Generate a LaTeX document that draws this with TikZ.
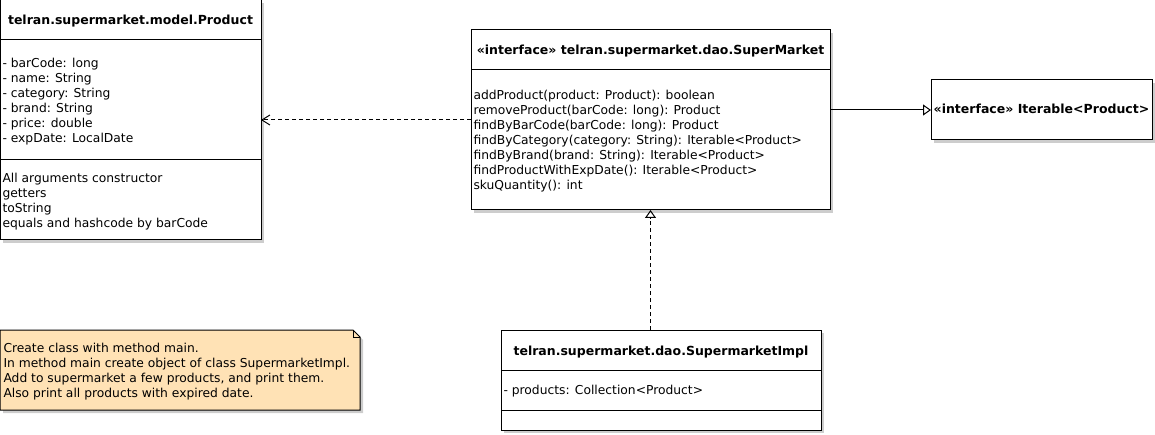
\documentclass[tikz,border=0pt]{standalone}
\usepackage{fontspec}
\setmainfont{DejaVu Sans}
\usetikzlibrary{arrows.meta,positioning,shadows}
\definecolor{notefill}{RGB}{255,226,181}
\definecolor{shadowgray}{RGB}{205,205,205}

\begin{document}
\begin{tikzpicture}[
      x=1pt, y=-1pt,
      line width=1pt,
      every node/.style={font=\fontsize{12.3}{15}\selectfont, inner sep=0pt},
      classbox/.style={rectangle, draw, fill=white, outer sep=0pt, anchor=north west,
            drop shadow={shadow xshift=3pt, shadow yshift=-3pt, fill=shadowgray, opacity=1}},
      classname/.style={font=\fontsize{12.5}{15}\selectfont\bfseries, anchor=base},
      members/.style={align=left, anchor=north west},
      depend/.style={dash pattern=on 4pt off 3pt, -{Straight Barb[length=8pt, width=10pt]}},
      realize/.style={-{Triangle[open, length=8pt, width=11pt]}},
      implement/.style={realize, dash pattern=on 4pt off 3pt}
]
\useasboundingbox (0,0) rectangle (1155,435);

\node[classbox, minimum width=261pt, minimum height=240pt] (product) at (0,0) {};
\node[classname] (productname) at ([yshift=-25pt]product.north) {telran.supermarket.model.Product};
\node[members] (productattrs) at ([xshift=2pt, yshift=-57.5pt]product.north west) {- barCode: long\\
- name: String\\- category: String\\- brand: String\\- price: double\\- expDate: LocalDate};
\node[members] (productops) at ([xshift=2pt, yshift=-172.5pt]product.north west) {All arguments constructor\\
getters\\toString\\equals and hashcode by barCode};
\draw ([yshift=-40pt]product.north west) -- ([yshift=-40pt]product.north east);
\draw ([yshift=-160pt]product.north west) -- ([yshift=-160pt]product.north east);

\node[classbox, minimum width=359pt, minimum height=180pt] (market) at (471,30) {};
\node[classname] (marketname) at ([yshift=-25pt]market.north) {«interface» telran.supermarket.dao.SuperMarket};
\node[members] (marketops) at ([xshift=2pt, yshift=-60pt]market.north west) {addProduct(product: Product): boolean\\
removeProduct(barCode: long): Product\\findByBarCode(barCode: long): Product\\
findByCategory(category: String): Iterable<Product>\\findByBrand(brand: String): Iterable<Product>\\
findProductWithExpDate(): Iterable<Product>\\skuQuantity(): int};
\draw ([yshift=-40pt]market.north west) -- ([yshift=-40pt]market.north east);

\node[classbox, minimum width=221pt, minimum height=60pt] (iter) at (931,80) {};
\node[classname] (itername) at ([yshift=-33.5pt]iter.north) {«interface» Iterable<Product>};

\node[classbox, minimum width=320pt, minimum height=100pt] (impl) at (501,330) {};
\node[classname] (implname) at ([yshift=-25pt]impl.north) {telran.supermarket.dao.SupermarketImpl};
\node[members] (implattrs) at ([xshift=2pt, yshift=-55pt]impl.north west) {- products: Collection<Product>};
\draw ([yshift=-40pt]impl.north west) -- ([yshift=-40pt]impl.north east);
\draw ([yshift=-80pt]impl.north west) -- ([yshift=-80pt]impl.north east);

% note with folded corner
\fill[shadowgray] (3,333) -- (356,333) -- (363,340) -- (363,413) -- (3,413) -- cycle;
\draw[fill=notefill] (0,330) -- (353,330) -- (360,337) -- (360,410) -- (0,410) -- cycle;
\draw (353,330) -- (353,337) -- (360,337);
\node[members] (note) at (3,343) {Create class with method main.\\
In method main create object of class SupermarketImpl.\\
Add to supermarket a few products, and print them.\\Also print all products with expired date.};

\draw[depend] (market.west) -- (product.east);
\draw[implement] (market.south |- impl.north) -- (market.south);
\draw[realize] (market.east |- iter.west) -- (iter.west);
\end{tikzpicture}
\end{document}
